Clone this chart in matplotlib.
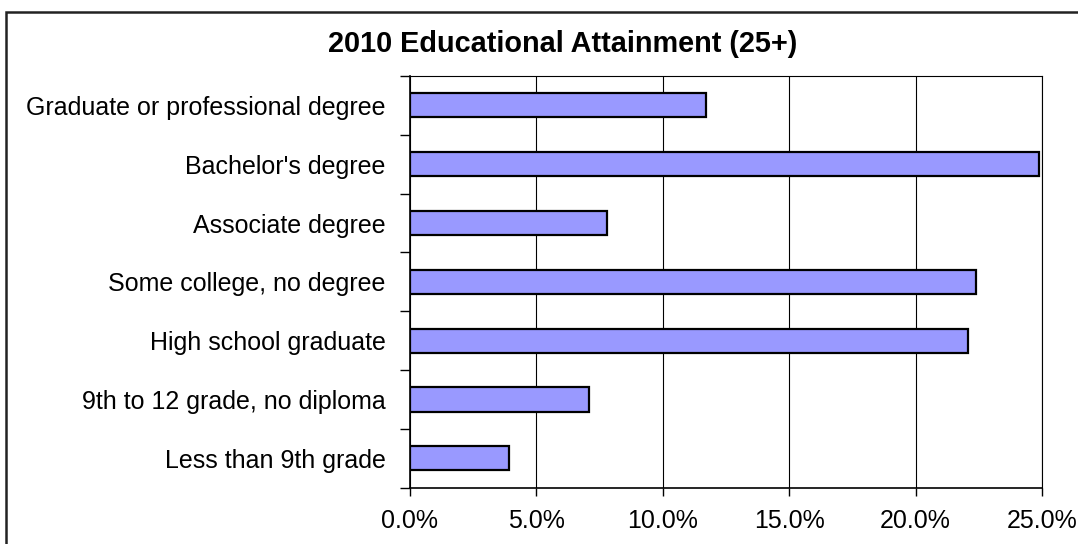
import matplotlib
matplotlib.use('Agg')
import matplotlib.pyplot as plt
from matplotlib.patches import Rectangle
from matplotlib.ticker import FuncFormatter, FixedLocator

# Educational attainment, population 25 and over (percent)
categories = ['Less than 9th grade', '9th to 12 grade, no diploma', 'High school graduate',
              'Some college, no degree', 'Associate degree', "Bachelor's degree",
              'Graduate or professional degree']
shares = [3.93, 7.09, 22.09, 22.39, 7.81, 24.87, 11.71]
x_ticks = [0, 5, 10, 15, 20, 25]

plt.rcParams['font.family'] = ['Liberation Sans', 'DejaVu Sans']

fig = plt.figure(figsize=(10.78, 5.44), dpi=100)
ax = fig.add_axes([410 / 1078, 1 - 487.7 / 544, 632 / 1078, 411.7 / 544])

pos = range(len(categories))
ax.barh(pos, shares, height=0.41, color='#9999ff', edgecolor='black', linewidth=1.6, zorder=3)

ax.set_xlim(0, 25)
ax.set_ylim(-0.5, len(categories) - 0.5)
ax.xaxis.set_major_locator(FixedLocator(x_ticks))
ax.xaxis.set_major_formatter(FuncFormatter(lambda v, p: f'{v:.1f}%'))
ax.grid(axis='x', color='black', linewidth=0.8, zorder=0)

# category labels sit between the boundary ticks
ax.set_yticks([i - 0.5 for i in range(len(categories) + 1)])
ax.set_yticklabels([])
ax.set_yticks(list(pos), minor=True)
ax.set_yticklabels(categories, minor=True, fontsize=18)
ax.tick_params(axis='y', which='minor', length=0, pad=17.5)
ax.tick_params(axis='y', which='major', length=7, width=1, direction='out')
ax.tick_params(axis='x', length=6, width=1, direction='out', labelsize=18, pad=9)

for side in ['left', 'bottom']:
    ax.spines[side].set_linewidth(1.2)
for side in ['top', 'right']:
    ax.spines[side].set_linewidth(0.8)

fig.text(563 / 1078, 1 - 44 / 544, '2010 Educational Attainment (25+)', ha='center', va='center',
         fontsize=20.8, fontweight='bold')

# outer chart frame
fig.patches.append(Rectangle((6 / 1078, -0.05), 1.1, 1 - 12 / 544 + 0.05, transform=fig.transFigure,
                             fill=False, edgecolor='#222222', linewidth=1.8))

fig.savefig('out.png', dpi=100)
